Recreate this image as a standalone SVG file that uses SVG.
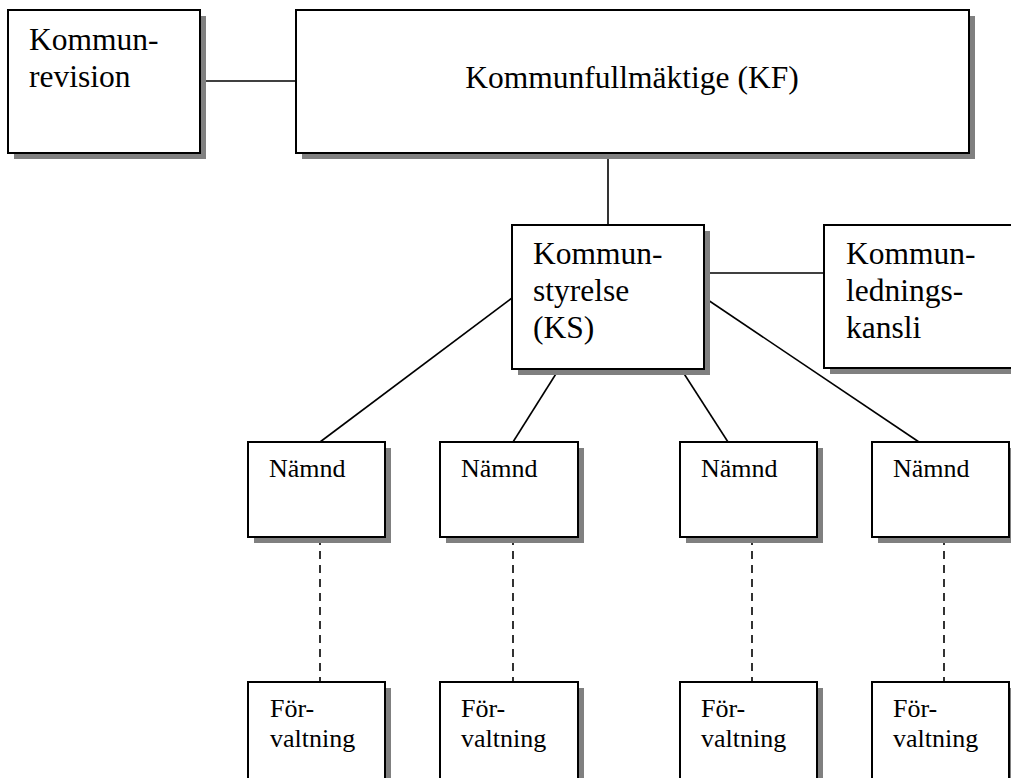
<svg xmlns="http://www.w3.org/2000/svg" width="1011" height="778" viewBox="0 0 1011 778">
<defs>
<style>
.shadow{fill:#808080;stroke:none}
.box{fill:#ffffff;stroke:#000000;stroke-width:2}
.big{font-family:'Liberation Serif','DejaVu Serif','Times New Roman',serif;font-size:31.5px;fill:#000}
.small{font-family:'Liberation Serif','DejaVu Serif','Times New Roman',serif;font-size:26px;fill:#000}
.line{stroke:#000;stroke-width:1.6;fill:none}
.dash{stroke:#000;stroke-width:1.6;fill:none;stroke-dasharray:8,6}
</style>
</defs>
<rect width="1011" height="778" fill="#ffffff"/>
<g id="connectors">
<line class="line" x1="200" y1="81" x2="296" y2="81"/>
<line class="line" x1="608" y1="153" x2="608" y2="225"/>
<line class="line" x1="704" y1="273" x2="824" y2="273"/>
<line class="line" x1="512" y1="298" x2="320" y2="442"/>
<line class="line" x1="559" y1="369" x2="513" y2="442"/>
<line class="line" x1="681" y1="369" x2="728" y2="442"/>
<line class="line" x1="705" y1="298" x2="919" y2="442"/>
<line class="dash" x1="320" y1="537" x2="320" y2="682"/>
<line class="dash" x1="513" y1="537" x2="513" y2="682"/>
<line class="dash" x1="752" y1="537" x2="752" y2="682"/>
<line class="dash" x1="944" y1="537" x2="944" y2="682"/>
</g>
<g id="kommunrevision">
<rect class="shadow" x="14" y="16" width="192" height="143"/>
<rect class="box" x="8" y="10" width="192" height="143"/>
<text class="big" x="29" y="50" font-family="Liberation Serif, DejaVu Serif, serif">Kommun-</text>
<text class="big" x="29" y="87" font-family="Liberation Serif, DejaVu Serif, serif">revision</text>
</g>
<g id="kf">
<rect class="shadow" x="302" y="16" width="673" height="143"/>
<rect class="box" x="296" y="10" width="673" height="143"/>
<text class="big" x="632" y="88" text-anchor="middle">Kommunfullmäktige (KF)</text>
</g>
<g id="ks">
<rect class="shadow" x="518" y="231" width="192" height="144"/>
<rect class="box" x="512" y="225" width="192" height="144"/>
<text class="big" x="533" y="264">Kommun-</text>
<text class="big" x="533" y="301">styrelse</text>
<text class="big" x="533" y="338">(KS)</text>
</g>
<g id="kommunledningskansli">
<rect class="shadow" x="830" y="231" width="200" height="143"/>
<rect class="box" x="824" y="225" width="200" height="143"/>
<text class="big" x="846" y="264">Kommun-</text>
<text class="big" x="846" y="301">lednings-</text>
<text class="big" x="846" y="338">kansli</text>
</g>
<g id="namnd1">
<rect class="shadow" x="254" y="448" width="137" height="95"/>
<rect class="box" x="248" y="442" width="137" height="95"/>
<text class="small" x="269" y="477">Nämnd</text>
</g>
<g id="namnd2">
<rect class="shadow" x="446" y="448" width="138" height="95"/>
<rect class="box" x="440" y="442" width="138" height="95"/>
<text class="small" x="461" y="477">Nämnd</text>
</g>
<g id="namnd3">
<rect class="shadow" x="686" y="448" width="137" height="95"/>
<rect class="box" x="680" y="442" width="137" height="95"/>
<text class="small" x="701" y="477">Nämnd</text>
</g>
<g id="namnd4">
<rect class="shadow" x="878" y="448" width="137" height="95"/>
<rect class="box" x="872" y="442" width="137" height="95"/>
<text class="small" x="893" y="477">Nämnd</text>
</g>
<g id="forvaltning1">
<rect class="shadow" x="254" y="688" width="137" height="110"/>
<rect class="box" x="248" y="682" width="137" height="110"/>
<text class="small" x="270" y="717">För-</text>
<text class="small" x="270" y="747">valtning</text>
</g>
<g id="forvaltning2">
<rect class="shadow" x="446" y="688" width="138" height="110"/>
<rect class="box" x="440" y="682" width="138" height="110"/>
<text class="small" x="461" y="717">För-</text>
<text class="small" x="461" y="747">valtning</text>
</g>
<g id="forvaltning3">
<rect class="shadow" x="686" y="688" width="137" height="110"/>
<rect class="box" x="680" y="682" width="137" height="110"/>
<text class="small" x="701" y="717">För-</text>
<text class="small" x="701" y="747">valtning</text>
</g>
<g id="forvaltning4">
<rect class="shadow" x="878" y="688" width="137" height="110"/>
<rect class="box" x="872" y="682" width="137" height="110"/>
<text class="small" x="893" y="717">För-</text>
<text class="small" x="893" y="747">valtning</text>
</g>
</svg>
